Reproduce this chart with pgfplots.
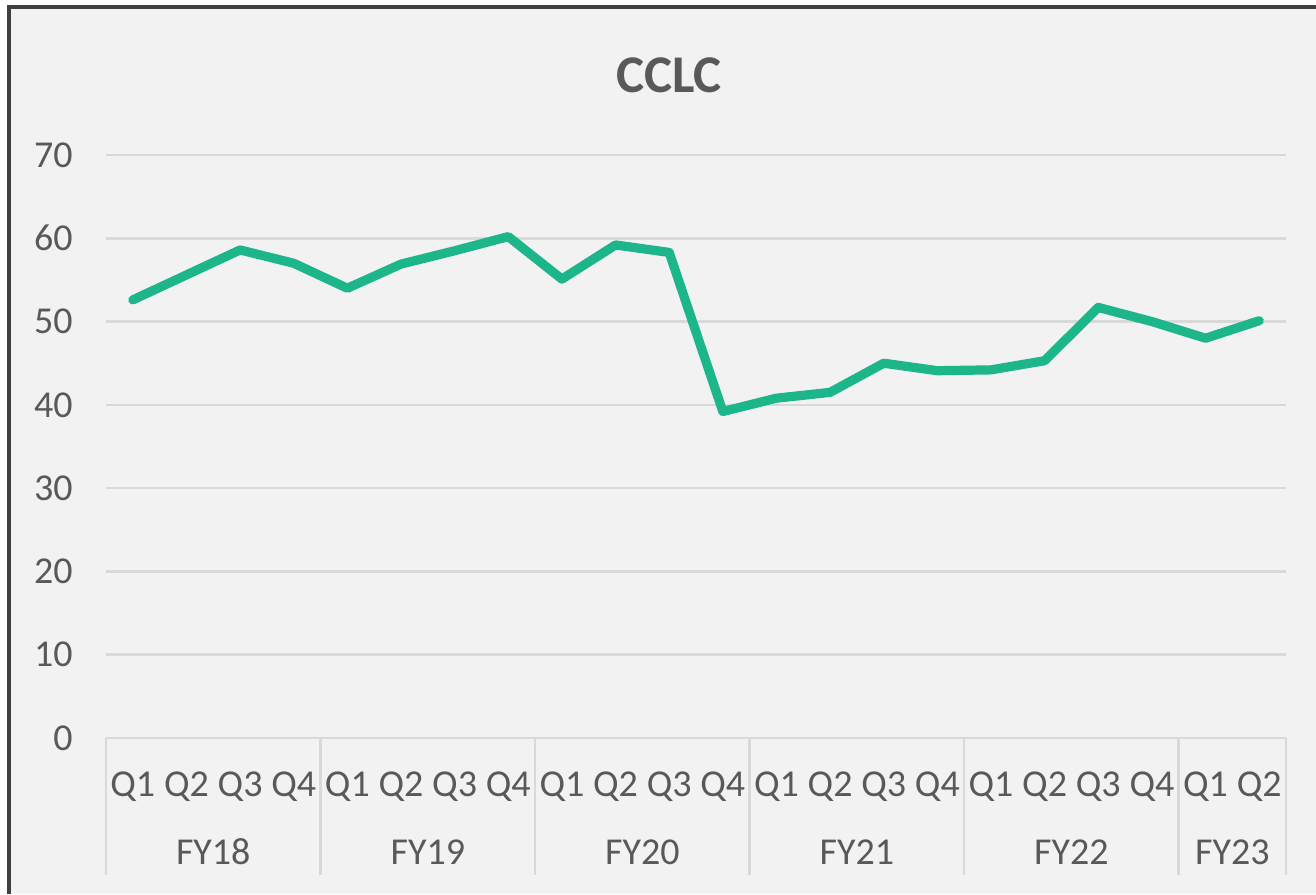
\documentclass[border=0pt]{standalone}
\usepackage{pgfplots}
\pgfplotsset{compat=1.18}
\usepackage{fontspec}
\setmainfont{Carlito}
\definecolor{bgc}{HTML}{F2F2F2}
\definecolor{txt}{HTML}{595959}
\definecolor{gridc}{HTML}{D9D9D9}
\definecolor{linec}{HTML}{1DB68A}
\definecolor{frame}{HTML}{404040}
\begin{document}
\begin{tikzpicture}
\useasboundingbox (0,0) rectangle (658pt,447pt);
\fill[white] (0,0) rectangle (658pt,447pt);
\fill[bgc] (4.5pt,0) rectangle (658pt,443.5pt);
\draw[frame, line width=1.6pt] (4.5pt,0) -- (4.5pt,443.5pt) -- (658pt,443.5pt);
\node[text=txt, font=\fontsize{26.5}{30}\selectfont\bfseries] at (334.5pt,409.5pt) {CCLC};
\begin{axis}[
  at={(53pt,78pt)}, anchor=south west,
  scale only axis, width=590pt, height=291.5pt,
  xmin=-0.5, xmax=21.5, ymin=0, ymax=70,
  ytick={0,10,...,70},
  xtick={0,...,21},
  xticklabels={Q1,Q2,Q3,Q4,Q1,Q2,Q3,Q4,Q1,Q2,Q3,Q4,Q1,Q2,Q3,Q4,Q1,Q2,Q3,Q4,Q1,Q2},
  axis x line*=bottom, axis y line*=left,
  x axis line style={gridc, line width=1.3pt, -},
  y axis line style={draw=none},
  ymajorgrids, grid style={gridc, line width=1.3pt},
  major tick length=0pt,
  tick style={draw=none},
  /pgf/number format/assume math mode=true,
  ticklabel style={text=txt, font=\fontsize{19}{22}\selectfont},
  xticklabel style={anchor=base, yshift=-29pt, inner sep=0pt},
  yticklabel style={anchor=east, inner sep=0pt, xshift=-16.5pt},
  clip=false,
]
\addplot[linec, line width=4.6pt, line join=round, line cap=round] coordinates {
(0,52.6) (1,55.6) (2,58.6) (3,57.0) (4,54.0) (5,56.9) (6,58.5) (7,60.2)
(8,55.1) (9,59.2) (10,58.3) (11,39.2) (12,40.8) (13,41.5) (14,45.0) (15,44.1)
(16,44.2) (17,45.3) (18,51.7) (19,50.0) (20,48.0) (21,50.1)
};
\pgfplotsinvokeforeach{-0.5,3.5,7.5,11.5,15.5,19.5,21.5}{
  \draw[gridc, line width=1.3pt] (axis cs:#1,0) -- ([yshift=-68.5pt]axis cs:#1,0);
}
\tikzset{fy/.style={anchor=base, inner sep=0pt, text=txt, font=\fontsize{19}{22}\selectfont}}
\node[fy] at ([yshift=-63pt]axis cs:1.5,0) {FY18};
\node[fy] at ([yshift=-63pt]axis cs:5.5,0) {FY19};
\node[fy] at ([yshift=-63pt]axis cs:9.5,0) {FY20};
\node[fy] at ([yshift=-63pt]axis cs:13.5,0) {FY21};
\node[fy] at ([yshift=-63pt]axis cs:17.5,0) {FY22};
\node[fy] at ([yshift=-63pt]axis cs:20.5,0) {FY23};
\end{axis}
\end{tikzpicture}
\end{document}
